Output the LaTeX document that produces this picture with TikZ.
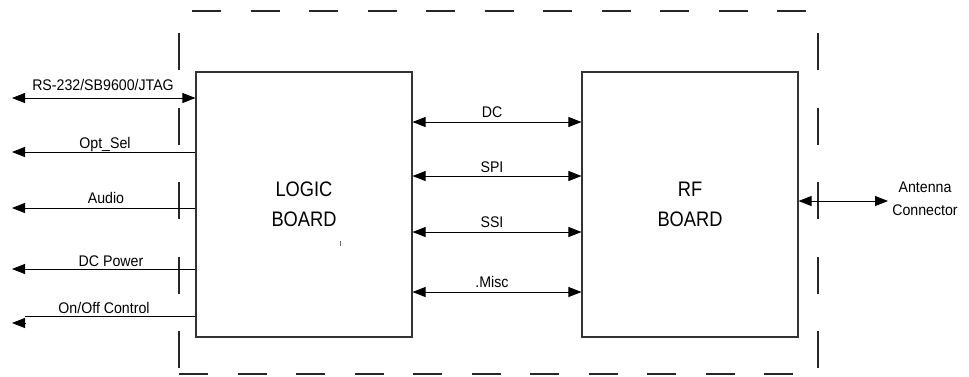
\documentclass[tikz,border=0pt]{standalone}
\usepackage{fontspec}
\setmainfont{Liberation Sans}[FakeStretch=0.92]
\newfontfamily\boardfont{Liberation Sans}[FakeStretch=0.87]
\usetikzlibrary{arrows.meta}
\tikzset{
  board/.style={draw=black!80, line width=1.1pt, minimum width=216pt, minimum height=265pt, inner sep=0pt, align=center, font=\boardfont\fontsize{21}{30}\selectfont},
  conn/.style={draw=black, line width=0.8pt},
  tip/.style={-{Triangle[length=13pt,width=10pt]}},
  bitip/.style={{Triangle[length=13pt,width=10pt]}-{Triangle[length=13pt,width=10pt]}},
  lbl/.style={anchor=base, inner sep=0pt, font=\fontsize{15.4}{17}\selectfont},
  hdash/.style={draw=black!85, line width=2.6pt, dash pattern=on 29pt off 29.5pt},
  vdash/.style={draw=black!85, line width=2pt, dash pattern=on 37pt off 37.5pt}
}
\begin{document}
\begin{tikzpicture}[x=1pt,y=-1pt]
\useasboundingbox (0,0) rectangle (969,376);
% enclosure (dashed)
\draw[hdash] (192,11) -- (806,11);
\draw[hdash] (179,374) -- (793,374);
\draw[vdash] (179,33) -- (179,368);
\draw[vdash] (818,33) -- (818,368);
% boards
\node[board] (logic) at (304,204.5) {LOGIC\\BOARD};
\node[board] (rf) at (690,204.5) {RF\\BOARD};
\draw[black!60, line width=0.6pt] (340,241) -- (340,246);
% left side connections
\coordinate (rs) at (12,98);
\coordinate (opt) at (12,152);
\coordinate (aud) at (12,208);
\coordinate (dcp) at (12,269);
\coordinate (onoff) at (25,316);
\coordinate (onoffA) at (25,323);
\coordinate (onoffT) at (12,323);
\draw[conn,bitip] (rs) -- (rs -| logic.west);
\draw[conn,tip] (opt -| logic.west) -- (opt);
\draw[conn,tip] (aud -| logic.west) -- (aud);
\draw[conn,tip] (dcp -| logic.west) -- (dcp);
\draw[conn] (onoff -| logic.west) -- (onoff);
\draw[conn,tip] (onoffA) -- (onoffT);
\node[lbl] (lrs) at (103,90) {RS-232/SB9600/JTAG};
\node[lbl] (lopt) at (105,148) {Opt\_Sel};
\node[lbl] (laud) at (106,203) {Audio};
\node[lbl] (ldcp) at (111,266) {DC Power};
\node[lbl] (lonoff) at (104,313) {On/Off Control};
% board-to-board
\coordinate (ydc) at (0,122);
\coordinate (yspi) at (0,176);
\coordinate (yssi) at (0,232);
\coordinate (ymisc) at (0,292);
\draw[conn,bitip] (logic.east |- ydc) -- (rf.west |- ydc);
\draw[conn,bitip] (logic.east |- yspi) -- (rf.west |- yspi);
\draw[conn,bitip] (logic.east |- yssi) -- (rf.west |- yssi);
\draw[conn,bitip] (logic.east |- ymisc) -- (rf.west |- ymisc);
\node[lbl] (ldc) at (492,117) {DC};
\node[lbl] (lspi) at (492,172) {SPI};
\node[lbl] (lssi) at (492,227) {SSI};
\node[lbl] (lmisc) at (492,287) {.Misc};
% antenna
\coordinate (ant) at (888,201);
\draw[conn,bitip] (rf.east |- ant) -- (ant);
\node[lbl] (lant1) at (925,192) {Antenna};
\node[lbl] (lant2) at (925,215) {Connector};
\end{tikzpicture}
\end{document}
